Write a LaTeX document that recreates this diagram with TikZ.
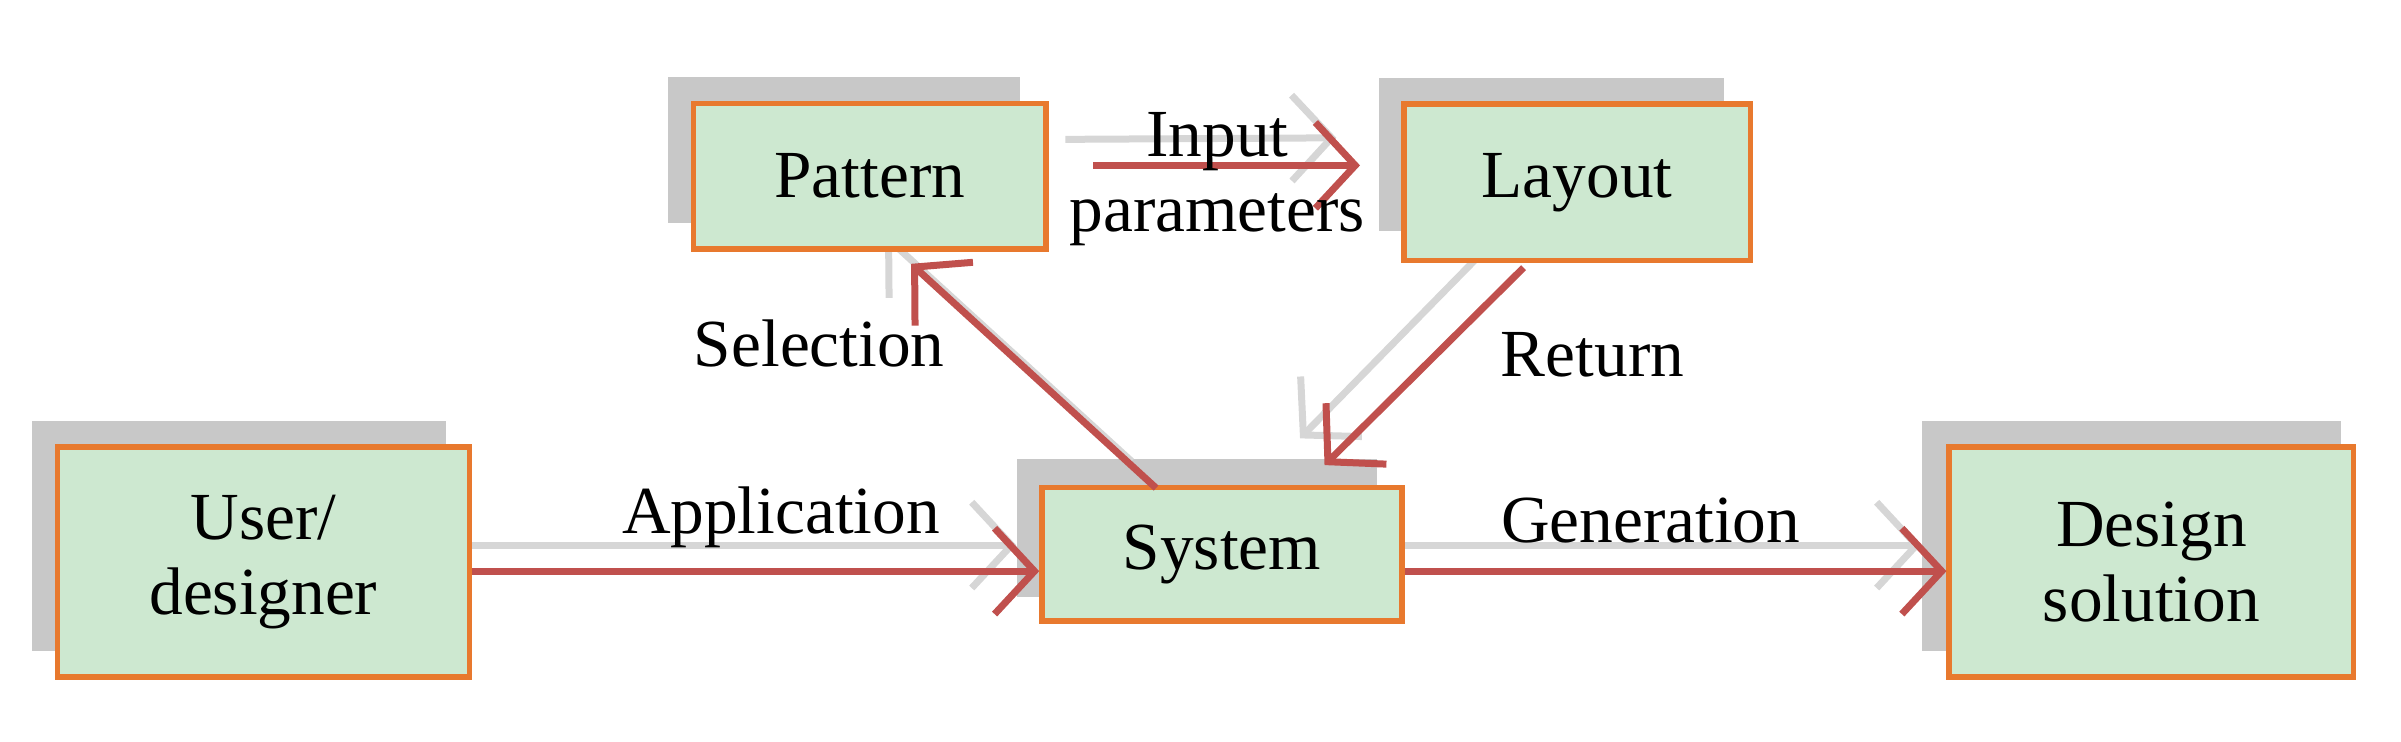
\documentclass[tikz,border=0pt]{standalone}
\usepackage{fontspec}
\setmainfont{Liberation Serif}
\usetikzlibrary{arrows.meta,calc}
\definecolor{boxfill}{HTML}{CDE8D0}
\definecolor{boxline}{HTML}{E8792E}
\definecolor{shad}{HTML}{C8C8C8}
\definecolor{arr}{HTML}{C0504D}
\definecolor{sarr}{HTML}{D6D6D6}
\tikzset{
 box/.style={draw=boxline,fill=boxfill,line width=1pt,align=center,font=\fontsize{12.5}{14}\selectfont,inner sep=0pt},
 shadowbox/.style={fill=shad,inner sep=0pt},
 con/.style={draw=arr,line width=1.3pt,-{Straight Barb[length=2.6mm,width=5.6mm,line width=1.3pt]}},
 scon/.style={draw=sarr,line width=1.3pt,-{Straight Barb[length=2.6mm,width=5.6mm,line width=1.3pt]}},
 lab/.style={font=\fontsize{12.5}{14}\selectfont,align=center,inner sep=0pt}
}
\begin{document}
\begin{tikzpicture}[x=0.01cm,y=-0.01cm]
\useasboundingbox (0,0) rectangle (1568,484);
% shadows
\node[shadowbox,minimum width=2.30cm,minimum height=0.95cm] (ps) at (551,98) {};
\node[shadowbox,minimum width=2.25cm,minimum height=1.00cm] (ls) at (1013,101) {};
\node[shadowbox,minimum width=2.70cm,minimum height=1.50cm] (us) at (156,350) {};
\node[shadowbox,minimum width=2.35cm,minimum height=0.90cm] (ss) at (782,345) {};
\node[shadowbox,minimum width=2.73cm,minimum height=1.50cm] (ds) at (1392,350) {};
% shadow arrows
\draw[scon] ($(us.east)+(0,6)$) -- ($(ss.west)+(0,11)$);
\draw[scon] ($(ss.east)+(0,11)$) -- ($(ds.west)+(0,6)$);
\draw[scon] ($(ps.east)+(29,-7)$) -- ($(ls.west)+(-27,-11)$);
\draw[scon] ($(ss.north)+(-43,2)$) -- ($(ps.south)+(27,8)$);
\draw[scon] ($(ls.south)+(-35,3)$) -- ($(ss.north)+(67,-13)$);
% boxes
\node[box,minimum width=2.30cm,minimum height=0.95cm] (p) at (568,115) {Pattern};
\node[box,minimum width=2.26cm,minimum height=1.02cm] (l) at (1030,119) {Layout};
\node[box,minimum width=2.69cm,minimum height=1.50cm] (u) at (172,367) {User/\\designer};
\node[box,minimum width=2.35cm,minimum height=0.87cm] (s) at (798,362) {System};
\node[box,minimum width=2.64cm,minimum height=1.50cm] (d) at (1405,367) {Design\\solution};
% arrows
\draw[con] ($(u.east)+(0,6)$) -- ($(s.west)+(0,11)$);
\draw[con] ($(s.east)+(0,11)$) -- ($(d.west)+(0,6)$);
\draw[con] ($(p.east)+(29,-7)$) -- ($(l.west)+(-27,-11)$);
\draw[con] ($(s.north)+(-43,2)$) -- ($(p.south)+(27,8)$);
\draw[con] ($(l.south)+(-35,3)$) -- ($(s.north)+(67,-13)$);
% labels
\node[lab] (t1) at (795,117) {Input\\parameters};
\node[lab] (t2) at (535,224) {Selection};
\node[lab] (t3) at (1040,232) {Return};
\node[lab] (t4) at (510,338) {Application};
\node[lab] (t5) at (1078,340) {Generation};
\end{tikzpicture}
\end{document}
